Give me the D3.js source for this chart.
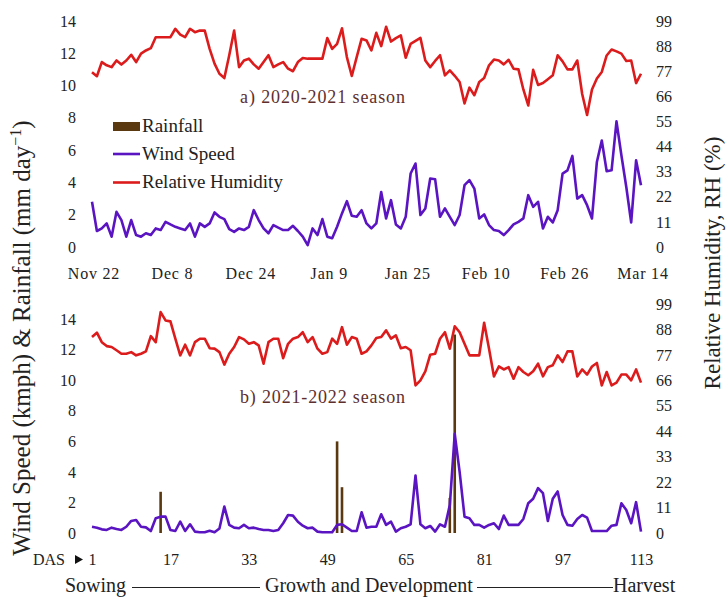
<!DOCTYPE html>
<html>
<head>
<meta charset="utf-8">
<script src="https://cdn.jsdelivr.net/npm/d3@7"></script>
<style>
  html, body { margin: 0; padding: 0; background: #fff; }
  svg { display: block; }
  text { font-family: "Liberation Serif", "Times New Roman", Times, serif; fill: #222; }
</style>
</head>
<body>
<svg id="chart" width="728" height="597"></svg>
<script>
// ---------- DATA ----------
const dateTicks = ["Nov 22", "Dec 8", "Dec 24", "Jan 9", "Jan 25", "Feb 10", "Feb 26", "Mar 14"];
const dasTicks = [1, 17, 33, 49, 65, 81, 97, 113];
const leftTicksTop = [0, 2, 4, 6, 8, 10, 12, 14];
const leftTicksBottom = [0, 2, 4, 6, 8, 10, 12, 14];
const rhTicks = [0, 11, 22, 33, 44, 55, 66, 77, 88, 99];

// 2020-2021 season, daily values (DAS 1..113)
const rh2021 = [76.6, 74.8, 81, 79.6, 78.8, 81.7, 79.9, 81.7, 84.2, 81, 84.7, 86.1, 87.1, 91.9, 91.9, 91.9, 91.9, 95.6, 93, 91.9,
  95.6, 94.1, 94.8, 94.8, 86.8, 80.3, 75.9, 74, 84, 94.8, 78.8, 81.7, 82.5, 80, 78.1, 81, 84, 78.8, 80, 81,
  78.1, 77, 81, 82.8, 82.5, 82.5, 82.5, 82.5, 91.5, 86.8, 89, 95.8, 83.2, 74.9, 83.2, 91.2, 90.5, 86.1, 93.8, 88,
  96.5, 90, 91.5, 92.7, 82.9, 89, 90.3, 91.6, 81.7, 78.8, 81.5, 84, 75.2, 77.4, 75, 72.3, 62.9, 69.8, 66.5, 72.3,
  74, 79.6, 82.1, 81.7, 80, 82, 78.1, 77.8, 69, 62, 77.6, 71, 71.8, 73.5, 75.2, 84, 81.3, 77.8, 77.8, 81.7,
  67, 57.8, 69, 73.8, 76.7, 83.9, 86.5, 85.7, 84.7, 81.5, 81.7, 71.8, 75.9];
const wind2021 = [2.8, 0.99, 1.15, 1.46, 0.64, 2.18, 1.67, 0.64, 1.67, 0.74, 0.64, 0.85, 0.74, 1.15, 1.05, 1.56, 1.4, 1.25, 1.15, 1.05,
  1.46, 0.64, 1.46, 1.25, 1.46, 2.14, 1.87, 1.73, 1.11, 0.94, 1.15, 1.05, 1.25, 2.28, 1.67, 1.15, 0.85, 1.36, 1.2, 1.05,
  1.05, 1.31, 0.99, 0.64, 0.12, 1.15, 0.74, 1.73, 0.64, 0.54, 1.25, 2.08, 2.84, 1.93, 1.87, 2.28, 1.46, 1.15, 1.46, 3.41,
  1.77, 2.9, 1.4, 1.15, 1.87, 4.55, 5.17, 1.98, 2.39, 4.24, 4.2, 1.87, 2.39, 1.87, 1.36, 1.98, 3.83, 4.14, 3.62, 1.77,
  2.02, 1.36, 1.05, 0.99, 0.74, 1.05, 1.4, 1.56, 1.77, 3.21, 2.49, 2.8, 1.15, 1.87, 1.52, 2.28, 4.55, 4.75, 5.64, 3.0,
  3.21, 2.59, 1.77, 5.27, 6.6, 4.69, 4.75, 7.78, 5.68, 3.72, 1.52, 5.37, 3.83];

// 2021-2022 season, daily values (DAS 1..113)
const rh2022 = [84.7, 86.6, 82.5, 80.8, 80.4, 79, 77.5, 77.5, 78.2, 76.8, 77.5, 78.5, 85.1, 82.5, 95.5, 91.9, 91.5, 84, 76.8, 81.4,
  76.8, 82.5, 84, 84, 79.9, 79.7, 78.2, 72.8, 77.5, 80.4, 84.7, 83.7, 81.8, 82.5, 81.1, 73.2, 82.5, 84, 84, 75.6,
  81.8, 84, 84.7, 86.8, 82.5, 84.7, 79.7, 77.5, 78.2, 84, 81.8, 89, 81.4, 84.7, 84, 77.5, 78.5, 81.1, 84.3, 84.7,
  87.6, 84, 85.4, 79.9, 80.4, 79, 63.8, 66, 69.9, 77.1, 77.5, 84, 86.8, 79.7, 89.4, 86.8, 81.8, 76.8, 76.8, 76.8,
  90.9, 79.7, 67.7, 72, 70.7, 71.7, 66.7, 71.7, 69.6, 68.2, 69.9, 73.2, 67.7, 71.7, 72.5, 76.8, 73.9, 78.5, 78.5, 67.7,
  70.7, 68.5, 72, 73.5, 63.8, 69.6, 63.8, 65, 68.5, 68.5, 66, 70.7, 65];
const wind2022 = [0.41, 0.35, 0.24, 0.2, 0.35, 0.26, 0.2, 0.41, 0.79, 0.85, 0.41, 0.37, 0.13, 0.97, 1.07, 1.07, 0.2, 0.13, 0.74, 0.13,
  0.57, 0.09, 0.05, 0.05, 0.15, 0.05, 0.3, 1.73, 0.53, 0.35, 0.31, 0.53, 0.31, 0.35, 0.26, 0.2, 0.2, 0.13, 0.2, 0.64,
  1.18, 1.14, 0.74, 0.48, 0.31, 0.35, 0.09, 0.05, 0.05, 0.05, 0.53, 0.57, 0.35, 0.13, 0.13, 1.36, 0.35, 0.41, 0.41, 1.23,
  0.53, 0.74, 0.09, 0.31, 0.41, 0.57, 3.77, 0.57, 0.31, 0.46, 0.09, 0.57, 0.41, 1.84, 6.49, 4.0, 1.07, 0.97, 0.53, 0.53,
  0.35, 0.53, 0.64, 0.26, 1.14, 0.53, 0.53, 0.53, 0.92, 1.95, 2.24, 2.94, 2.61, 0.79, 2.24, 2.72, 1.18, 0.53, 0.48, 0.92,
  1.18, 1.01, 0.13, 0.13, 0.13, 0.13, 0.48, 0.53, 1.95, 1.51, 0.64, 2.02, 0.09];
const rainDas2022 = [15, 51, 52, 74, 75];
const rainVal2022 = [2.7, 6.0, 3.0, 2.3, 13.0];

// ---------- STYLE ----------
const RED = "#dc1c1c";
const PURPLE = "#5b14c2";
const BROWN = "#5a3810";
const TITLE_COL = "#5e2e2e";
const FONT = "'Liberation Serif', 'Times New Roman', Times, serif";

const svg = d3.select("#chart");
const das = d3.range(1, rh2021.length + 1);

const x = d3.scaleLinear().domain([1, 113]).range([92, 641]);

const panels = [
  { rh: rh2021, wind: wind2021, rainDas: [], rainVal: [], yTop: 21, yBot: 247, leftMax: 14,
    leftTicks: leftTicksTop, title: "a) 2020-2021 season", titleY: 103 },
  { rh: rh2022, wind: wind2022, rainDas: rainDas2022, rainVal: rainVal2022, yTop: 304, yBot: 533, leftMax: 15,
    leftTicks: leftTicksBottom, title: "b) 2021-2022 season", titleY: 403 }
];

panels.forEach((p) => {
  const yL = d3.scaleLinear().domain([0, p.leftMax]).range([p.yBot, p.yTop]);
  const yR = d3.scaleLinear().domain([0, 99]).range([p.yBot, p.yTop]);

  // left axis
  const gl = svg.append("g").attr("transform", "translate(76,0)")
    .call(d3.axisLeft(yL).tickValues(p.leftTicks).tickSize(0).tickPadding(0));
  gl.select(".domain").remove();
  gl.attr("font-family", null);
  gl.selectAll("text").style("font-family", FONT).style("font-size", "16px").attr("fill", "#222");

  // right axis
  const gr = svg.append("g").attr("transform", "translate(656,0)")
    .call(d3.axisRight(yR).tickValues(rhTicks).tickSize(0).tickPadding(0));
  gr.select(".domain").remove();
  gr.attr("font-family", null);
  gr.selectAll("text").style("font-family", FONT).style("font-size", "16px").attr("fill", "#222");

  // rainfall bars
  svg.append("g").selectAll("rect").data(p.rainDas).join("rect")
    .attr("x", d => x(d) - 1.3)
    .attr("width", 2.6)
    .attr("y", (d, i) => yL(p.rainVal[i]))
    .attr("height", (d, i) => yL(0) - yL(p.rainVal[i]))
    .attr("fill", BROWN);

  // wind line
  svg.append("path").datum(p.wind)
    .attr("fill", "none").attr("stroke", PURPLE).attr("stroke-width", 2.6)
    .attr("stroke-linejoin", "round")
    .attr("d", d3.line().x((d, i) => x(das[i])).y(d => yL(d)));

  // RH line
  svg.append("path").datum(p.rh)
    .attr("fill", "none").attr("stroke", RED).attr("stroke-width", 2.6)
    .attr("stroke-linejoin", "round")
    .attr("d", d3.line().x((d, i) => x(das[i])).y(d => yR(d)));

  // panel title
  svg.append("text").attr("x", 240).attr("y", p.titleY)
    .attr("textLength", 165).attr("lengthAdjust", "spacing")
    .style("font-size", "18px").style("fill", TITLE_COL)
    .text(p.title);
});

// top date labels
const gx = svg.append("g").attr("transform", "translate(0,279)");
gx.selectAll("text").data(dateTicks).join("text")
  .attr("x", (d, i) => x(dasTicks[i]) + 2)
  .attr("text-anchor", "middle")
  .style("font-size", "16px").style("letter-spacing", "0.8px")
  .text(d => d);

// bottom DAS axis
const gd = svg.append("g").attr("transform", "translate(0,565)")
  .call(d3.axisBottom(x).tickValues(dasTicks).tickSize(0).tickPadding(0));
gd.select(".domain").remove();
gd.attr("font-family", null);
gd.selectAll("text").attr("dy", 0).attr("y", 0)
  .style("font-family", FONT).style("font-size", "16px").attr("fill", "#222");
svg.append("text").attr("x", 33).attr("y", 565).style("font-size", "16px").text("DAS");
svg.append("path").attr("d", "M75,555 L83,559.5 L75,564 Z").attr("fill", "#111");

// Legend
const legend = svg.append("g");
legend.append("rect").attr("x", 113).attr("y", 122).attr("width", 27).attr("height", 9).attr("fill", BROWN);
legend.append("line").attr("x1", 113).attr("x2", 140).attr("y1", 154).attr("y2", 154)
  .attr("stroke", PURPLE).attr("stroke-width", 2.6);
legend.append("line").attr("x1", 113).attr("x2", 140).attr("y1", 182.5).attr("y2", 182.5)
  .attr("stroke", RED).attr("stroke-width", 2.6);
legend.append("text").attr("x", 142).attr("y", 132).style("font-size", "19px").text("Rainfall");
legend.append("text").attr("x", 142).attr("y", 160).style("font-size", "19px").text("Wind Speed");
legend.append("text").attr("x", 142).attr("y", 188).style("font-size", "19px").text("Relative Humidity");

// Axis titles
const lt = svg.append("text")
  .attr("transform", "translate(30,338) rotate(-90)")
  .attr("text-anchor", "middle")
  .style("font-size", "25px");
lt.append("tspan").text("Wind Speed (kmph) & Rainfall (mm day");
lt.append("tspan").attr("dy", -9).style("font-size", "16px").text("\u22121");
lt.append("tspan").attr("dy", 9).text(")");

svg.append("text")
  .attr("transform", "translate(720,263) rotate(-90)")
  .attr("text-anchor", "middle")
  .style("font-size", "23px")
  .text("Relative Humidity, RH (%)");

// Growth stage row
svg.append("text").attr("x", 65).attr("y", 592).style("font-size", "20px").text("Sowing");
svg.append("line").attr("x1", 132).attr("x2", 260).attr("y1", 587.5).attr("y2", 587.5).attr("stroke", "#222").attr("stroke-width", 1);
svg.append("text").attr("x", 265).attr("y", 592).style("font-size", "20px").text("Growth and Development");
svg.append("line").attr("x1", 477).attr("x2", 613).attr("y1", 587.5).attr("y2", 587.5).attr("stroke", "#222").attr("stroke-width", 1);
svg.append("text").attr("x", 613).attr("y", 592).style("font-size", "20px").text("Harvest");
</script>
</body>
</html>
